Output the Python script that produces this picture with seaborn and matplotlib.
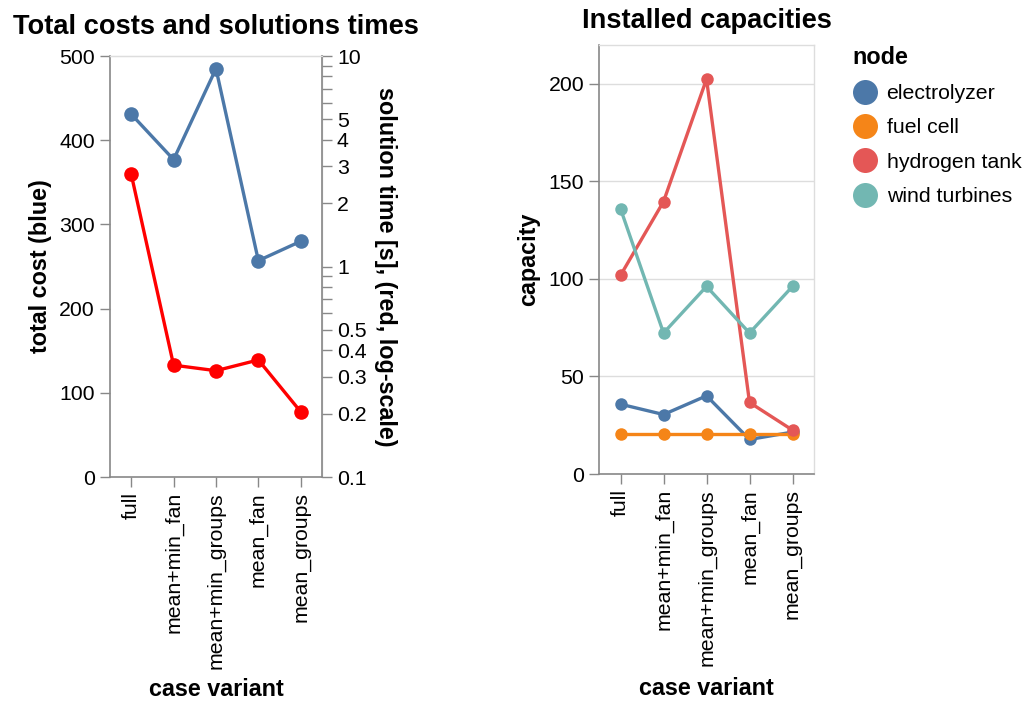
import numpy as np
import pandas as pd
import matplotlib
matplotlib.use("Agg")
import matplotlib.pyplot as plt
from matplotlib.lines import Line2D
from matplotlib.ticker import FixedLocator, NullLocator
import seaborn as sns

sns.set_style("white")
plt.rcParams["font.family"] = ["Liberation Sans", "DejaVu Sans"]
plt.rcParams["text.color"] = "black"
plt.rcParams["axes.labelcolor"] = "black"

# ---- data ----
variants = ["full", "mean+min_fan", "mean+min_groups", "mean_fan", "mean_groups"]
total_cost = [431, 377, 485, 257, 280]
solution_time = [2.75, 0.34, 0.32, 0.36, 0.204]

nodes = ["electrolyzer", "fuel cell", "hydrogen tank", "wind turbines"]
cap_electrolyzer = [35.8, 30.5, 40.1, 17.7, 21.5]
cap_fuel_cell = [20.3, 20.3, 20.3, 20.3, 20.3]
cap_hydrogen_tank = [101.9, 139.7, 202.5, 36.7, 22.5]
cap_wind_turbines = [136.0, 72.3, 96.2, 72.3, 96.2]

node_colors = ["#4c78a8", "#f58518", "#e45756", "#72b7b2"]

costs = pd.DataFrame({"variant": variants, "cost": total_cost, "time": solution_time})
caps = pd.DataFrame({
    "variant": variants * 4,
    "node": np.repeat(nodes, len(variants)),
    "capacity": cap_electrolyzer + cap_fuel_cell + cap_hydrogen_tank + cap_wind_turbines,
})

AXIS_GREY = "#888888"
GRID_GREY = "#dddddd"
TICK_FS = 15.3
LABEL_FS = 16.8
TITLE_FS = 19.6
LW = 2.4

fig = plt.figure(figsize=(10.27, 7.04), dpi=100)
ax1 = fig.add_axes([0.1071, 0.3224, 0.2064, 0.598])
ax3 = fig.add_axes([0.5833, 0.3267, 0.2093, 0.6094])


def style_axis(ax):
    ax.set_xlim(-0.5, 4.5)
    ax.tick_params(axis="both", which="both", length=7.2, width=1, color=AXIS_GREY,
                   labelcolor="black", labelsize=TICK_FS, pad=3.6,
                   bottom=True, left=True)
    ax.tick_params(axis="x", labelrotation=90)
    for s in ("left", "bottom"):
        ax.spines[s].set_color(AXIS_GREY)
        ax.spines[s].set_linewidth(1.2)
    for s in ("top", "right"):
        ax.spines[s].set_color(GRID_GREY)
        ax.spines[s].set_linewidth(1.0)


# ---- left: total cost (linear) and solution time (log) ----
sns.lineplot(data=costs, x="variant", y="cost", sort=False, ax=ax1, color="#4c78a8",
             linewidth=LW, marker="o", markersize=10.5, markeredgewidth=0)
style_axis(ax1)
ax1.set_ylim(0, 500)
ax1.set_yticks([0, 100, 200, 300, 400, 500])
ax1.set_xlabel("case variant", fontsize=LABEL_FS, fontweight="bold", labelpad=7)
ax1.set_ylabel("total cost (blue)", fontsize=LABEL_FS, fontweight="bold", labelpad=5)
ax1.set_title("Total costs and solutions times", fontsize=TITLE_FS,
              fontweight="bold", pad=16)

ax2 = ax1.twinx()
sns.lineplot(data=costs, x="variant", y="time", sort=False, ax=ax2, color="#ff0000",
             linewidth=LW, marker="o", markersize=10.5, markeredgewidth=0)
ax2.set_yscale("log")
ax2.set_ylim(0.1, 10)
log_ticks = [0.1, 0.2, 0.3, 0.4, 0.5, 0.6, 0.7, 0.8, 0.9,
             1, 2, 3, 4, 5, 6, 7, 8, 9, 10]
shown = {0.1: "0.1", 0.2: "0.2", 0.3: "0.3", 0.4: "0.4", 0.5: "0.5",
         1: "1", 2: "2", 3: "3", 4: "4", 5: "5", 10: "10"}
ax2.yaxis.set_major_locator(FixedLocator(log_ticks))
ax2.yaxis.set_minor_locator(NullLocator())
ax2.set_yticklabels([shown.get(t, "") for t in log_ticks])
ax2.tick_params(axis="y", which="both", length=7.2, width=1, color=AXIS_GREY,
                labelcolor="black", labelsize=TICK_FS, pad=3.6, right=True)
ax2.set_ylabel("solution time [s], (red, log-scale)", fontsize=LABEL_FS,
               fontweight="bold", rotation=270, va="bottom", labelpad=5)
ax2.spines["right"].set_color(AXIS_GREY)
ax2.spines["right"].set_linewidth(1.2)
for s in ("left", "bottom"):
    ax2.spines[s].set_visible(False)
ax2.spines["top"].set_color(GRID_GREY)

# ---- right: installed capacities per node ----
sns.lineplot(data=caps, x="variant", y="capacity", hue="node", hue_order=nodes,
             palette=node_colors, sort=False, ax=ax3, linewidth=LW,
             marker="o", markersize=9, markeredgewidth=0, legend=False)
style_axis(ax3)
ax3.set_ylim(0, 220)
ax3.set_yticks([0, 50, 100, 150, 200])
ax3.yaxis.grid(True, color=GRID_GREY, linewidth=1)
ax3.set_axisbelow(True)
ax3.set_xlabel("case variant", fontsize=LABEL_FS, fontweight="bold", labelpad=8)
ax3.set_ylabel("capacity", fontsize=LABEL_FS, fontweight="bold", labelpad=6)
ax3.set_title("Installed capacities", fontsize=TITLE_FS, fontweight="bold", pad=12.5)

handles = [Line2D([], [], linestyle="none", marker="o", markersize=18,
                  markerfacecolor=c, markeredgewidth=0) for c in node_colors]
leg = fig.legend(handles, nodes, title="node", loc="upper left",
                 bbox_to_anchor=(0.8213, 0.947), frameon=False, fontsize=TICK_FS,
                 title_fontproperties={"weight": "bold", "size": LABEL_FS},
                 handlelength=1.2, handletextpad=0.43, labelspacing=0.72,
                 borderaxespad=0)
leg._legend_box.align = "left"

fig.savefig("out.png", dpi=100)
